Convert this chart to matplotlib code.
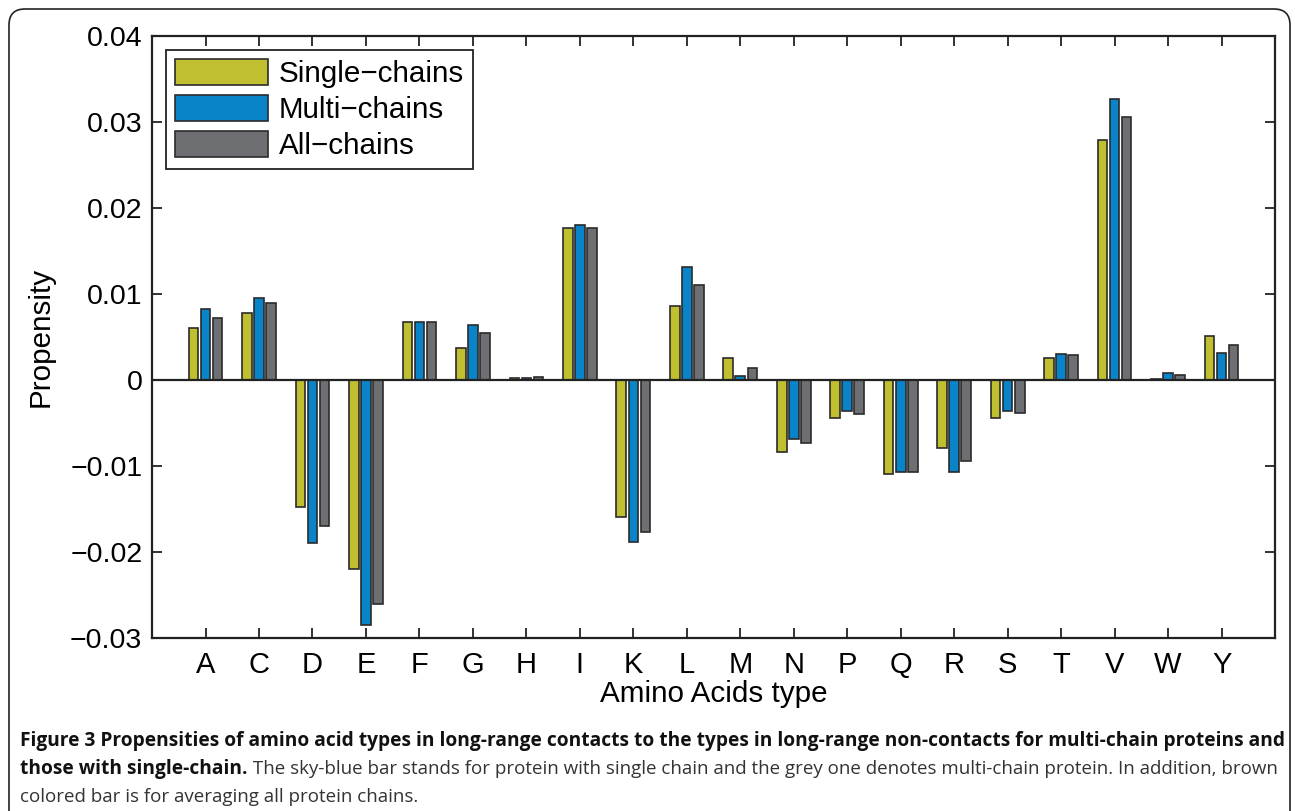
import numpy as np
import matplotlib
matplotlib.use('Agg')
import matplotlib.pyplot as plt
from matplotlib.patches import FancyBboxPatch

# Amino acids on the x axis
amino = ['A', 'C', 'D', 'E', 'F', 'G', 'H', 'I', 'K', 'L',
         'M', 'N', 'P', 'Q', 'R', 'S', 'T', 'V', 'W', 'Y']

# Propensity values for each group of chains
single = [0.0060, 0.0078, -0.0147, -0.0220, 0.0067, 0.0037, 0.0002, 0.0177, -0.0159, 0.0086,
          0.0026, -0.0084, -0.0044, -0.0109, -0.0079, -0.0044, 0.0026, 0.0279, 0.0001, 0.0051]
multi = [0.0082, 0.0095, -0.0189, -0.0284, 0.0067, 0.0064, 0.0002, 0.0180, -0.0188, 0.0131,
         0.0005, -0.0068, -0.0036, -0.0107, -0.0107, -0.0036, 0.0030, 0.0326, 0.0008, 0.0032]
allc = [0.0072, 0.0089, -0.0170, -0.0260, 0.0068, 0.0055, 0.0003, 0.0177, -0.0177, 0.0110,
        0.0014, -0.0073, -0.0039, -0.0107, -0.0094, -0.0038, 0.0029, 0.0305, 0.0006, 0.0041]

series_names = ['Single\u2212chains', 'Multi\u2212chains', 'All\u2212chains']
colors = ['#bfbf2f', '#0a84c8', '#6e6f73']

yticks = [-0.03, -0.02, -0.01, 0, 0.01, 0.02, 0.03, 0.04]
yticklabels = ['\u22120.03', '\u22120.02', '\u22120.01', '0', '0.01', '0.02', '0.03', '0.04']

caption_bold1 = ('Figure 3 Propensities of amino acid types in long-range contacts to the types '
                 'in long-range non-contacts for multi-chain proteins and')
caption_bold2 = 'those with single-chain.'
caption_reg2 = (' The sky-blue bar stands for protein with single chain and the grey one denotes '
                'multi-chain protein. In addition, brown')
caption_reg3 = 'colored bar is for averaging all protein chains.'

plt.rcParams['font.family'] = ['Liberation Sans', 'DejaVu Sans']

fig = plt.figure(figsize=(12.95, 8.11), dpi=100)
ax = fig.add_axes([0.1174, 0.2129, 0.8672, 0.7431])

x = np.arange(1, len(amino) + 1)
offset = 0.225
width = 0.18
for i, (vals, name, c) in enumerate(zip([single, multi, allc], series_names, colors)):
    ax.bar(x + (i - 1) * offset, vals, width, color=c, edgecolor='#2b2b2b',
           linewidth=1.2, label=name, zorder=2)

ax.axhline(0, color='#222222', linewidth=1.6, zorder=3)

ax.set_xlim(0, 21)
ax.set_ylim(-0.03, 0.04)
ax.set_xticks(x)
ax.set_xticklabels(amino)
ax.set_yticks(yticks)
ax.set_yticklabels(yticklabels)
ax.tick_params(direction='in', length=7, width=1.3, color='#222222',
               top=True, right=True)
ax.tick_params(axis='y', labelsize=20.5, pad=7)
ax.tick_params(axis='x', labelsize=21, pad=9)
for s in ax.spines.values():
    s.set_linewidth(1.6)
    s.set_color('#222222')

ax.set_xlabel('Amino Acids type', fontsize=21.3, labelpad=1)
ax.set_ylabel('Propensity', fontsize=21.3, labelpad=11)

leg = ax.legend(loc='upper left', bbox_to_anchor=(0.0125, 0.976), fontsize=21.3,
                handlelength=3.15, handleheight=0.95, labelspacing=0.24,
                borderpad=0.3, borderaxespad=0, handletextpad=0.35,
                fancybox=False, framealpha=1, edgecolor='#222222')
leg.get_frame().set_linewidth(1.3)

# Rounded frame around the whole figure, open at the bottom
frame = FancyBboxPatch((0.09, -0.5), 12.81, 8.52,
                       boxstyle='round,pad=0,rounding_size=0.16',
                       transform=fig.dpi_scale_trans, facecolor='none',
                       edgecolor='#222222', linewidth=1.2)
fig.patches.append(frame)

# Caption below the chart
cap_font = ['Open Sans', 'DejaVu Sans']
bold_size = 13.74
reg_size = 13.5
fig.text(20 / 1295, 1 - 741 / 811, caption_bold1, fontsize=bold_size, fontweight='bold',
         family=cap_font, va='center', ha='left', color='#111111')
t2 = fig.text(20 / 1295, 1 - 769 / 811, caption_bold2, fontsize=bold_size, fontweight='bold',
              family=cap_font, va='center', ha='left', color='#111111')
fig.canvas.draw()
bb = t2.get_window_extent()
fig.text(bb.x1 / fig.bbox.width, 1 - 769 / 811, caption_reg2, fontsize=reg_size,
         family=cap_font, va='center', ha='left', color='#333333')
fig.text(20 / 1295, 1 - 797 / 811, caption_reg3, fontsize=reg_size,
         family=cap_font, va='center', ha='left', color='#333333')

fig.savefig('out.png', dpi=100)
